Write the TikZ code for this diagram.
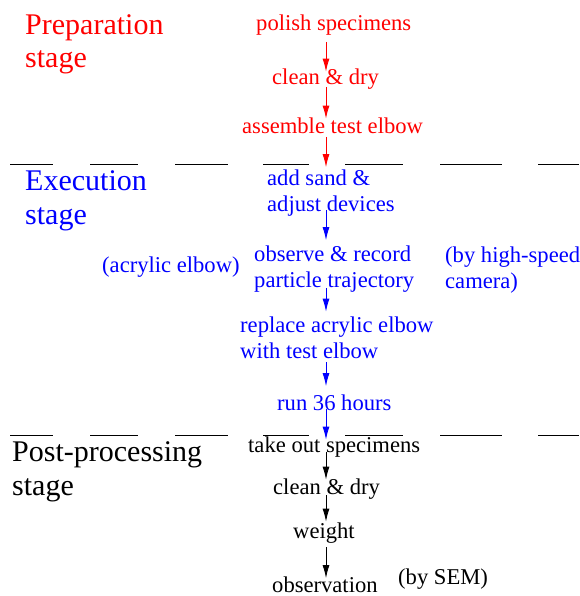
\documentclass[tikz,border=0pt]{standalone}
\usepackage{fontspec}
\setmainfont{Liberation Serif}
\usetikzlibrary{arrows.meta}
\tikzset{flow/.style = {-{Latex[length=13pt, width=7pt]}, line width=0.9pt}}
\tikzset{stepnode/.style = {inner sep = 0, anchor = base west, align = left,
                            font = \fontsize{22.6}{26}\selectfont}}
\tikzset{stagenode/.style = {inner sep = 0, anchor = base west, align = left,
                             font = \fontsize{30}{33.5}\selectfont}}
\tikzset{sepline/.style = {line width=0.8pt}}

\begin{document}
\begin{tikzpicture}[x=1pt, y=-1pt]
    \useasboundingbox (0, 0) rectangle (579, 596);
    \coordinate (axis) at (326, 0);

    % stage separators
    \foreach \a/\b in {10/53, 90/138, 175/228, 263/309, 345/403, 440/502, 538/579} {
      \draw [sepline] (\a, 164) -- (\b, 164);
      \draw [sepline] (\a, 435) -- (\b, 435);
    }

    % preparation (base = last line)
    \node [stagenode, red] (prep) at (25, 68) {Preparation\\stage};
    \node [stepnode, red] (p1) at (256, 31) {polish specimens};
    \node [stepnode, red] (p2) at (272, 85) {clean \& dry};
    \node [stepnode, red] (p3) at (242, 134) {assemble test elbow};

    % execution
    \node [stagenode, blue] (exec) at (25, 224) {Execution\\stage};
    \node [stepnode, blue] (e1) at (267, 211) {add sand \&\\adjust devices};
    \node [stepnode, blue] (e2) at (254, 287) {observe \& record\\particle trajectory};
    \node [stepnode, blue] (e3) at (240, 358) {replace acrylic elbow\\with test elbow};
    \node [stepnode, blue] (e4) at (277, 410) {run 36 hours};
    \node [stepnode, blue] (acr) at (102, 272) {(acrylic elbow)};
    \node [stepnode, blue] (cam) at (445, 288) {(by high-speed\\camera)};

    % post-processing
    \node [stagenode] (post) at (12, 495) {Post-processing\\stage};
    \node [stepnode] (q1) at (248, 452) {take out specimens};
    \node [stepnode] (q2) at (273, 494) {clean \& dry};
    \node [stepnode] (q3) at (293, 538) {weight};
    \node [stepnode] (q4) at (272, 592) {observation};
    \node [stepnode] (sem) at (398, 584) {(by SEM)};

    \draw [flow, red, shorten <=11pt, shorten >=-2.5pt] (p1.base -| axis) -- (p2.north -| axis);
    \draw [flow, red, shorten <=2pt, shorten >=-0.5pt] (p2.base -| axis) -- (p3.north -| axis);
    \draw [flow, red, shorten <=3pt, shorten >=2pt] (p3.base -| axis) -- (e1.north -| axis);
    \draw [flow, blue, shorten <=-1pt, shorten >=5pt] (e1.base -| axis) -- (e2.north -| axis);
    \draw [flow, blue, shorten <=1pt, shorten >=4.5pt] (e2.base -| axis) -- (e3.north -| axis);
    \draw [flow, blue, shorten <=4pt, shorten >=8pt] (e3.base -| axis) -- (e4.north -| axis);
    \draw [flow, blue, shorten <=-1pt, shorten >=-3.5pt] (e4.base -| axis) -- (q1.north -| axis);
    \draw [flow, shorten <=0pt, shorten >=-1.5pt] (q1.base -| axis) -- (q2.north -| axis);
    \draw [flow, shorten <=1pt, shorten >=0.5pt] (q2.base -| axis) -- (q3.north -| axis);
    \draw [flow, shorten <=9pt, shorten >=-2pt] (q3.base -| axis) -- (q4.north -| axis);
  \end{tikzpicture}
\end{document}
